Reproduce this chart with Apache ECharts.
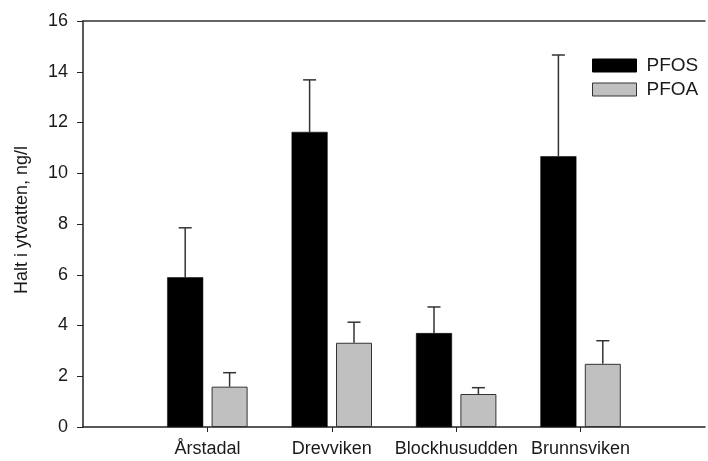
<!DOCTYPE html>
<html>
<head>
<meta charset="utf-8">
<script src="https://cdn.jsdelivr.net/npm/echarts@6/dist/echarts.min.js"></script>
<style>html,body{margin:0;padding:0;background:#fff}#c{width:708px;height:461px}</style>
</head>
<body>
<div id="c"></div>
<script>
const categories = ['Årstadal', 'Drevviken', 'Blockhusudden', 'Brunnsviken'];
const seriesNames = ['PFOS', 'PFOA'];
const pfosMean = [5.90, 11.63, 3.70, 10.67];
const pfosErr  = [1.95, 2.05, 1.03, 3.99];
const pfoaMean = [1.59, 3.32, 1.30, 2.49];
const pfoaErr  = [0.55, 0.81, 0.25, 0.91];
const yTicks = [0, 2, 4, 6, 8, 10, 12, 14, 16];

const FONT = 'Liberation Sans, Arial, sans-serif';
const BAR_W = 36, GAP_PX = 8.4;
const axisData = [''].concat(categories, ['']);

function errData(mean, err) {
  return mean.map((m, i) => [i + 1, m, m + err[i]]);
}
function errSeries(name, mean, err, side) {
  return {
    type: 'custom', name: name + ' err', silent: true, z: 1,
    data: errData(mean, err),
    encode: { x: 0, y: [1, 2] },
    renderItem: function (params, api) {
      const lo = api.coord([api.value(0), api.value(1)]);
      const hi = api.coord([api.value(0), api.value(2)]);
      const dx = side * (BAR_W + GAP_PX) / 2;
      const x = lo[0] + dx;
      const cap = 6.5;
      const st = { stroke: '#333', lineWidth: 1.5 };
      return { type: 'group', children: [
        { type: 'line', shape: { x1: x, y1: lo[1], x2: x, y2: hi[1] }, style: st },
        { type: 'line', shape: { x1: x - cap, y1: hi[1], x2: x + cap, y2: hi[1] }, style: st }
      ]};
    }
  };
}

const chart = echarts.init(document.getElementById('c'), null, { renderer: 'canvas' });
chart.setOption({
  animation: false,
  backgroundColor: '#fff',
  textStyle: { fontFamily: FONT },
  grid: { left: 83, right: -6, top: 21, bottom: 34 },
  legend: {
    data: [
      { name: seriesNames[0], itemStyle: { color: '#000', borderColor: '#000', borderWidth: 1 } },
      { name: seriesNames[1], itemStyle: { color: '#c0c0c0', borderColor: '#333', borderWidth: 1 } }
    ],
    orient: 'vertical', left: 592, top: 56, padding: 0,
    icon: 'rect', itemWidth: 44, itemHeight: 13, itemGap: 5,
    textStyle: { fontFamily: FONT, fontSize: 19, color: '#1a1a1a', padding: [0, 0, 0, 5] },
    selectedMode: false
  },
  xAxis: [{
    type: 'category', data: axisData, boundaryGap: false, position: 'bottom',
    axisLine: { lineStyle: { color: '#222', width: 1.5 } },
    axisTick: { show: true, length: 5, interval: (i) => i >= 1 && i <= categories.length, lineStyle: { color: '#222', width: 1 } },
    axisLabel: { fontFamily: FONT, fontSize: 18, color: '#1a1a1a', margin: 13, interval: 0 },
    splitLine: { show: false }
  }, {
    type: 'category', data: axisData, boundaryGap: false, position: 'top',
    axisLine: { show: true, lineStyle: { color: '#333', width: 1.5 } },
    axisTick: { show: false }, axisLabel: { show: false }, splitLine: { show: false }
  }],
  yAxis: {
    type: 'value', min: yTicks[0], max: yTicks[yTicks.length - 1], interval: yTicks[1] - yTicks[0],
    name: 'Halt i ytvatten, ng/l', nameLocation: 'middle', nameRotate: 90, nameGap: 52,
    nameTextStyle: { fontFamily: FONT, fontSize: 18, color: '#1a1a1a', padding: [0, 0, 0, 8] },
    axisLine: { show: true, lineStyle: { color: '#222', width: 1.5 } },
    axisTick: { show: true, inside: false, length: 6, lineStyle: { color: '#222', width: 1 } },
    axisLabel: { fontFamily: FONT, fontSize: 18, color: '#1a1a1a', margin: 15 },
    splitLine: { show: false }
  },
  series: [
    { type: 'bar', name: seriesNames[0], xAxisIndex: 0, z: 2,
      data: [null].concat(pfosMean, [null]), barWidth: BAR_W, barGap: (GAP_PX / BAR_W * 100) + '%',
      itemStyle: { color: '#000', borderColor: '#000', borderWidth: 0.5 } },
    { type: 'bar', name: seriesNames[1], xAxisIndex: 0, z: 2,
      data: [null].concat(pfoaMean, [null]), barWidth: BAR_W, barGap: (GAP_PX / BAR_W * 100) + '%',
      itemStyle: { color: '#c0c0c0', borderColor: '#333', borderWidth: 1 } },
    errSeries(seriesNames[0], pfosMean, pfosErr, -1),
    errSeries(seriesNames[1], pfoaMean, pfoaErr, 1)
  ]
});
</script>
</body>
</html>
